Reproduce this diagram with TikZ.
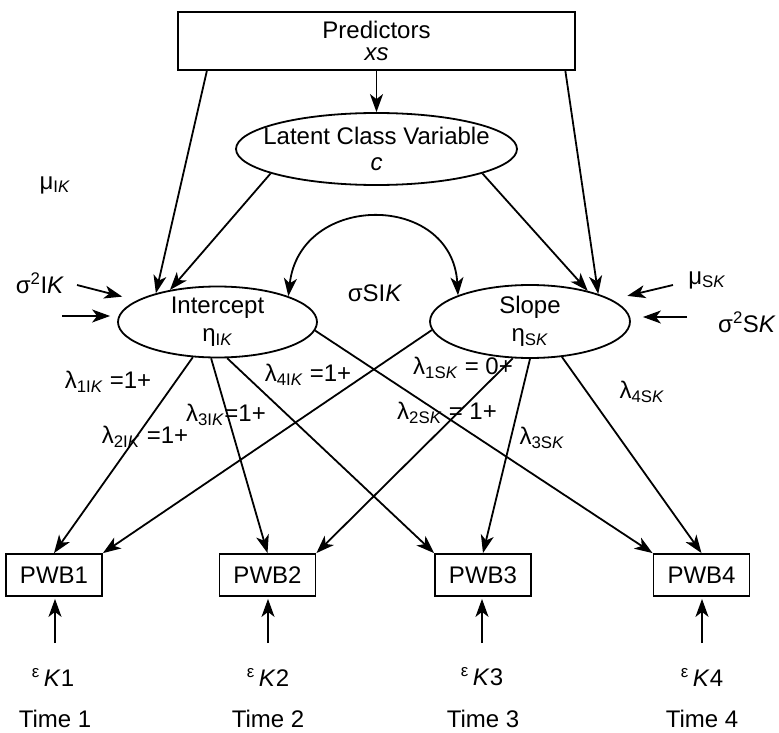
\documentclass[tikz,border=0pt]{standalone}
\usepackage{fontspec}
\setmainfont{Liberation Sans}
\usetikzlibrary{arrows.meta,shapes.geometric}
\newcommand{\sbs}[1]{\textsubscript{#1}}
\newcommand{\sps}[1]{\textsuperscript{#1}}
\begin{document}
\begin{tikzpicture}[x=1pt,y=-1pt,
  every node/.style={font=\fontsize{24}{26}\selectfont},
  lw/.style={line width=1.8pt},
  arr/.style={lw,-{Stealth[length=18pt,width=13pt,inset=5pt]}},
  dbl/.style={lw,{Stealth[length=18pt,width=13pt,inset=5pt]}-{Stealth[length=18pt,width=13pt,inset=5pt]}},
  box/.style={draw,lw,rectangle,inner sep=0pt,align=center},
  ell/.style={draw,lw,ellipse,inner sep=0pt},
  lbl/.style={inner sep=0pt,align=center}]
\useasboundingbox (0,0) rectangle (779,733);

% main nodes
\node[box,minimum width=397pt,minimum height=58pt] (pred) at (376.5,41) {Predictors\\[-4pt]\textit{xs}};
\node[ell,minimum width=281pt,minimum height=72pt] (lat) at (376.5,149) {};
\node[lbl] (latt) at (lat.center) {Latent Class Variable\\\textit{c}};
\node[ell,minimum width=199pt,minimum height=71pt] (int) at (217.5,322) {};
\node[lbl] (intt) at (int.center) {Intercept\\[2pt]η\sbs{I\textit{K}}};
\node[ell,minimum width=200pt,minimum height=73pt] (slope) at (530,321.5) {};
\node[lbl] (slopet) at (slope.center) {Slope\\[2pt]η\sbs{S\textit{K}}};

\node[box,minimum width=96pt,minimum height=42pt] (p1) at (54,575) {PWB1};
\node[box,minimum width=96pt,minimum height=42pt] (p2) at (267.5,575) {PWB2};
\node[box,minimum width=96pt,minimum height=42pt] (p3) at (483,575) {PWB3};
\node[box,minimum width=96pt,minimum height=42pt] (p4) at (701.5,575) {PWB4};

% side labels
\node[lbl] (muIK) at (55,185) {μ\sbs{I\textit{K}}};
\node[lbl] (sIK) at (40,283) {σ\sps{2}I\textit{K}};
\node[lbl] (sSIK) at (375,293) {σSI\textit{K}};
\node[lbl] (muSK) at (707,280) {μ\sbs{S\textit{K}}};
\node[lbl] (sSK) at (747,322) {σ\sps{2}S\textit{K}};

% loading labels
\node[lbl] (l1i) at (108,382) {λ\sbs{1I\textit{K}} =1+};
\node[lbl] (l2i) at (145,437) {λ\sbs{2I\textit{K}} =1+};
\node[lbl] (l3i) at (226,415) {λ\sbs{3I\textit{K}}=1+};
\node[lbl] (l4i) at (308,375) {λ\sbs{4I\textit{K}} =1+};
\node[lbl] (l1s) at (463,368) {λ\sbs{1S\textit{K}} = 0+};
\node[lbl] (l2s) at (447,413) {λ\sbs{2S\textit{K}} = 1+};
\node[lbl] (l3s) at (542,438) {λ\sbs{3S\textit{K}}};
\node[lbl] (l4s) at (642,392) {λ\sbs{4S\textit{K}}};

% error and time labels
\node[lbl] (e1) at (53,677) {\sps{ε}\,\textit{K}1};
\node[lbl] (e2) at (268,677) {\sps{ε}\,\textit{K}2};
\node[lbl] (e3) at (482,677) {\sps{ε}\,\textit{K}3};
\node[lbl] (e4) at (702,677) {\sps{ε}\,\textit{K}4};
\node[lbl] (t1) at (55,719) {Time 1};
\node[lbl] (t2) at (268,719) {Time 2};
\node[lbl] (t3) at (483,719) {Time 3};
\node[lbl] (t4) at (702,719) {Time 4};

% top structure
\draw[arr] (pred.south) -- (lat.north);
\draw[arr] (pred.-170.6) -- (int.155);
\draw[arr] (pred.-9.4) -- (slope.22);
\draw[arr] (lat.-167) -- (int.146);
\draw[arr] (lat.-13) -- (slope.28);
\draw[dbl] (int.20) .. controls (300,192) and (452,192) .. (slope.160);

% free arrows into latent factors
\coordinate (a1) at (77,285);
\coordinate (a2) at (62,316);
\coordinate (a3) at (673,285);
\coordinate (a4) at (687,317);
\draw[arr,shorten >=15pt] (a1) -- (int.165);
\draw[arr,shorten >=7pt] (a2) -- (a2 -| int.west);
\draw[arr,shorten >=16pt] (a3) -- (slope.15);
\draw[arr,shorten >=12pt] (a4) -- (a4 -| slope.east);

% loadings
\draw[arr] (int.-125) -- (p1.north);
\draw[arr] (int.-100) -- (p2.north);
\draw[arr] (int.-75) -- (p3.north west);
\draw[arr] (int.-5) -- (p4.north west);
\draw[arr] (slope.185) -- (p1.north east);
\draw[arr] (slope.-115) -- (p2.north east);
\draw[arr] (slope.-90) -- (p3.north);
\draw[arr] (slope.-48) -- (p4.north);

% residual arrows
\coordinate (b1) at (55,643);
\coordinate (b2) at (268,643);
\coordinate (b3) at (482,643);
\coordinate (b4) at (702,643);
\draw[arr,shorten >=2pt] (b1) -- (b1 |- p1.south);
\draw[arr,shorten >=2pt] (b2) -- (b2 |- p2.south);
\draw[arr,shorten >=2pt] (b3) -- (b3 |- p3.south);
\draw[arr,shorten >=2pt] (b4) -- (b4 |- p4.south);
\end{tikzpicture}
\end{document}
